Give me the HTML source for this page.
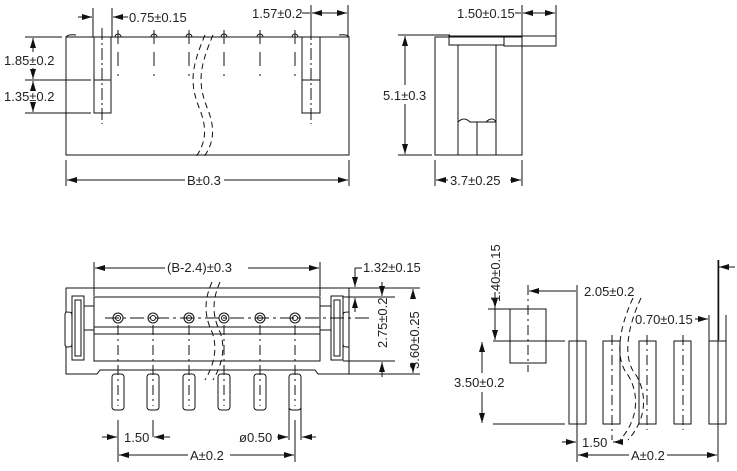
<!DOCTYPE html>
<html><head><style>html,body{margin:0;padding:0;background:#fff}svg{display:block}text{font-family:"Liberation Sans",sans-serif;font-size:13px;fill:#222}</style></head><body>
<svg width="737" height="471" viewBox="0 0 737 471" xmlns="http://www.w3.org/2000/svg">
<defs><marker id="a" viewBox="0 0 10 6" refX="10" refY="3" markerWidth="10" markerHeight="6" orient="auto-start-reverse" markerUnits="userSpaceOnUse"><path d="M0,0L10,3L0,6z" fill="#111"/></marker></defs>
<g stroke="#111" stroke-width="1" fill="none">
<rect x="66" y="37" width="283" height="118"/>
<rect x="94" y="37" width="17" height="76"/><line x1="94" y1="80" x2="111" y2="80"/>
<rect x="302" y="37" width="18" height="76"/><line x1="302" y1="80" x2="320" y2="80"/>
<g stroke-dasharray="12,3,2,3"><line x1="102" y1="28" x2="102" y2="124"/><line x1="311" y1="28" x2="311" y2="124"/></g>
<g stroke-dasharray="14,8"><line x1="118" y1="30" x2="118" y2="76"/><line x1="154" y1="30" x2="154" y2="76"/><line x1="189" y1="30" x2="189" y2="76"/><line x1="224" y1="30" x2="224" y2="76"/><line x1="260" y1="30" x2="260" y2="76"/><line x1="295" y1="30" x2="295" y2="76"/></g>
<g><path d="M115,37 a3,3 0 0 1 6,0"/><path d="M151,37 a3,3 0 0 1 6,0"/><path d="M186,37 a3,3 0 0 1 6,0"/><path d="M221,37 a3,3 0 0 1 6,0"/><path d="M257,37 a3,3 0 0 1 6,0"/><path d="M292,37 a3,3 0 0 1 6,0"/><path d="M66,37 q2,-3 10,-2"/><path d="M349,37 q-2,-3 -10,-2"/></g>
<g stroke-dasharray="6,4"><path d="M205,35 C190,70 190,85 200,110 C208,130 205,145 195,158"/><path d="M213,35 C198,70 198,85 208,110 C216,130 213,145 203,158"/></g>
<line x1="66" y1="160" x2="66" y2="186"/><line x1="349" y1="160" x2="349" y2="186"/>
<line x1="67" y1="180" x2="185" y2="180" marker-start="url(#a)"/><line x1="224" y1="180" x2="348" y2="180" marker-end="url(#a)"/>
<line x1="93" y1="8" x2="93" y2="37"/><line x1="112" y1="8" x2="112" y2="37"/>
<line x1="78" y1="17" x2="92" y2="17" marker-end="url(#a)"/><line x1="128" y1="17" x2="113" y2="17" marker-end="url(#a)"/>
<line x1="311" y1="5" x2="311" y2="37"/><line x1="348" y1="5" x2="348" y2="37"/>
<line x1="302" y1="13" x2="310" y2="13"/><line x1="312" y1="13" x2="347" y2="13" marker-start="url(#a)" marker-end="url(#a)"/>
<line x1="25" y1="37" x2="62" y2="37"/><line x1="25" y1="80" x2="91" y2="80"/><line x1="25" y1="113" x2="91" y2="113"/>
<line x1="33" y1="38" x2="33" y2="52" marker-start="url(#a)"/><line x1="33" y1="68" x2="33" y2="79" marker-end="url(#a)"/>
<line x1="33" y1="81" x2="33" y2="88" marker-start="url(#a)"/><line x1="33" y1="104" x2="33" y2="112" marker-end="url(#a)"/>
<rect x="435" y="37" width="87" height="118"/>
<rect x="449" y="36" width="55" height="9"/><line x1="458" y1="45" x2="458" y2="155"/><line x1="496" y1="45" x2="496" y2="155"/>
<path d="M458,122 C462,118 466,118 470,122 L486,122 C490,118 494,118 496,122"/>
<rect x="477" y="122" width="19" height="33"/>
<rect x="504" y="36" width="52" height="10"/>
<line x1="522" y1="5" x2="522" y2="36"/><line x1="556" y1="5" x2="556" y2="46"/>
<line x1="515" y1="13" x2="521" y2="13"/><line x1="523" y1="13" x2="555" y2="13" marker-start="url(#a)" marker-end="url(#a)"/>
<line x1="398" y1="35" x2="450" y2="35"/><line x1="398" y1="155" x2="432" y2="155"/>
<line x1="405" y1="36" x2="405" y2="85" marker-start="url(#a)"/><line x1="405" y1="104" x2="405" y2="154" marker-end="url(#a)"/>
<line x1="435" y1="160" x2="435" y2="186"/><line x1="522" y1="160" x2="522" y2="186"/>
<line x1="436" y1="180" x2="448" y2="180" marker-start="url(#a)"/><line x1="510" y1="180" x2="521" y2="180" marker-end="url(#a)"/>
<path d="M66,288 L349,288 L349,374 L318,374 L315,370 L100,370 L97,374 L66,374 L66,347 L65,345 L65,314 L66,312 Z"/>
<path d="M66,312 C72,312 72,312 72,318 L72,342 C72,347 72,347 66,347"/>
<rect x="72" y="296" width="12" height="64"/><rect x="75" y="300" width="6" height="56"/>
<line x1="84" y1="306" x2="94" y2="306"/><line x1="84" y1="330" x2="94" y2="330"/>
<rect x="94" y="297" width="226" height="64"/>
<line x1="94" y1="327" x2="320" y2="327"/><line x1="94" y1="334" x2="320" y2="334"/>
<path d="M349,312 C343,312 343,312 343,318 L343,342 C343,347 343,347 349,347"/>
<rect x="331" y="296" width="12" height="64"/><rect x="334" y="300" width="6" height="56"/>
<line x1="320" y1="306" x2="331" y2="306"/><line x1="320" y1="330" x2="331" y2="330"/>
<g stroke-dasharray="14,4,3,4"><line x1="105" y1="318" x2="370" y2="318"/></g>
<g id="h"><circle cx="118" cy="318" r="5"/><circle cx="118" cy="318" r="2.5"/></g>
<use href="#h" x="35"/><use href="#h" x="71"/><use href="#h" x="106"/><use href="#h" x="142"/><use href="#h" x="177"/>
<g stroke-dasharray="6,4"><path d="M212,282 C204,300 204,315 212,332 C218,348 214,365 205,380"/><path d="M220,282 C212,300 212,315 220,332 C226,348 222,365 213,380"/></g>
<g><rect x="112" y="374" width="12" height="36" rx="3"/><rect x="147" y="374" width="12" height="36" rx="3"/><rect x="183" y="374" width="12" height="36" rx="3"/><rect x="218" y="374" width="12" height="36" rx="3"/><rect x="254" y="374" width="12" height="36" rx="3"/><rect x="289" y="374" width="12" height="36" rx="3"/></g>
<g stroke-dasharray="10,4,2,4"><line x1="118" y1="325" x2="118" y2="406"/><line x1="153" y1="325" x2="153" y2="406"/><line x1="189" y1="325" x2="189" y2="406"/><line x1="224" y1="325" x2="224" y2="406"/><line x1="260" y1="325" x2="260" y2="406"/><line x1="295" y1="325" x2="295" y2="406"/></g>
<line x1="94" y1="262" x2="94" y2="296"/><line x1="320" y1="262" x2="320" y2="296"/>
<line x1="95" y1="268" x2="165" y2="268" marker-start="url(#a)"/><line x1="248" y1="268" x2="319" y2="268" marker-end="url(#a)"/>
<line x1="349" y1="288" x2="420" y2="288"/><line x1="343" y1="297" x2="395" y2="297"/><line x1="343" y1="361" x2="395" y2="361"/><line x1="318" y1="374" x2="420" y2="374"/>
<line x1="355" y1="268" x2="362" y2="268"/><line x1="355" y1="268" x2="355" y2="287" marker-end="url(#a)"/><line x1="355" y1="312" x2="355" y2="298" marker-end="url(#a)"/>
<line x1="382" y1="282" x2="382" y2="296" marker-end="url(#a)"/><line x1="382" y1="377" x2="382" y2="362" marker-end="url(#a)"/>
<line x1="413" y1="289" x2="413" y2="295" marker-start="url(#a)"/><line x1="413" y1="368" x2="413" y2="373" marker-end="url(#a)"/>
<line x1="118" y1="420" x2="118" y2="462"/><line x1="153" y1="420" x2="153" y2="437"/><line x1="289" y1="408" x2="289" y2="440"/><line x1="295" y1="420" x2="295" y2="462"/><line x1="301" y1="408" x2="301" y2="440"/>
<line x1="102" y1="437" x2="117" y2="437" marker-end="url(#a)"/><line x1="170" y1="437" x2="154" y2="437" marker-end="url(#a)"/>
<line x1="277" y1="437" x2="288" y2="437" marker-end="url(#a)"/><line x1="316" y1="437" x2="302" y2="437" marker-end="url(#a)"/>
<line x1="119" y1="455" x2="188" y2="455" marker-start="url(#a)"/><line x1="230" y1="455" x2="294" y2="455" marker-end="url(#a)"/>
<rect x="510" y="309" width="36" height="54"/>
<line x1="528" y1="285" x2="528" y2="372" stroke-dasharray="10,4,2,4"/>
<line x1="493" y1="341" x2="565" y2="341"/><line x1="493" y1="424" x2="565" y2="424"/>
<line x1="488" y1="309" x2="510" y2="309"/>
<line x1="495" y1="292" x2="495" y2="308" marker-end="url(#a)"/><line x1="495" y1="300" x2="495" y2="340" marker-end="url(#a)"/>
<line x1="482" y1="342" x2="482" y2="373" marker-start="url(#a)"/><line x1="482" y1="392" x2="482" y2="423" marker-end="url(#a)"/>
<line x1="529" y1="291" x2="576" y2="291" marker-start="url(#a)"/>
<g><rect x="569" y="341" width="17" height="83"/><rect x="603" y="341" width="17" height="83"/><rect x="639" y="341" width="17" height="83"/><rect x="674" y="341" width="17" height="83"/><rect x="709" y="341" width="17" height="83"/></g>
<g stroke-dasharray="10,4,2,4"><line x1="612" y1="335" x2="612" y2="440"/><line x1="647" y1="335" x2="647" y2="430"/><line x1="683" y1="335" x2="683" y2="430"/></g>
<line x1="577" y1="285" x2="577" y2="462"/><line x1="718" y1="260" x2="718" y2="462"/><line x1="718.5" y1="260" x2="718.5" y2="340" stroke-width="1.5"/>
<line x1="709" y1="315" x2="709" y2="341"/><line x1="726" y1="315" x2="726" y2="341"/>
<line x1="695" y1="319" x2="708" y2="319" marker-end="url(#a)"/><line x1="735" y1="267" x2="719" y2="267" marker-end="url(#a)"/>
<g stroke-dasharray="6,4"><path d="M633,298 C618,330 615,360 628,375 C640,395 638,420 620,440"/><path d="M641,298 C626,330 623,360 636,375 C648,395 646,420 628,440"/></g>
<line x1="562" y1="442" x2="576" y2="442" marker-end="url(#a)"/><line x1="620" y1="442" x2="613" y2="442" marker-end="url(#a)"/>
<line x1="578" y1="455" x2="629" y2="455" marker-start="url(#a)"/><line x1="667" y1="455" x2="717" y2="455" marker-end="url(#a)"/>
</g>
<text x="129" y="22">0.75±0.15</text>
<text x="252" y="18">1.57±0.2</text>
<text x="4" y="65">1.85±0.2</text>
<text x="4" y="101">1.35±0.2</text>
<text x="187" y="185">B±0.3</text>
<text x="457" y="18">1.50±0.15</text>
<text x="383" y="100">5.1±0.3</text>
<text x="450" y="185">3.7±0.25</text>
<text x="167" y="272">(B-2.4)±0.3</text>
<text x="363" y="272">1.32±0.15</text>
<text transform="translate(387,348) rotate(-90)">2.75±0.2</text>
<text transform="translate(419,369) rotate(-90)">3.60±0.25</text>
<text x="124" y="442">1.50</text>
<text x="239" y="442">ø0.50</text>
<text x="190" y="460">A±0.2</text>
<text transform="translate(500,302) rotate(-90)">1.40±0.15</text>
<text x="584" y="296">2.05±0.2</text>
<text x="635" y="324">0.70±0.15</text>
<text x="454" y="387">3.50±0.2</text>
<text x="582" y="447">1.50</text>
<text x="631" y="460">A±0.2</text>
</svg>
</body></html>
